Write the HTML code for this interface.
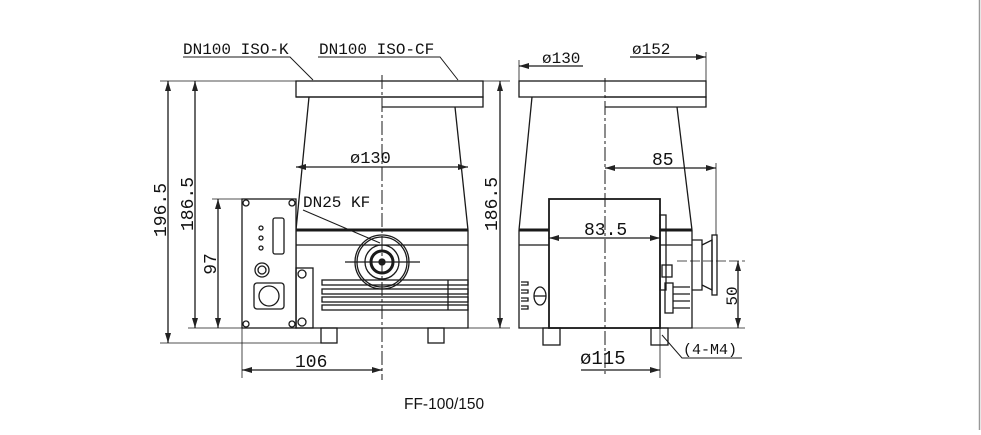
<!DOCTYPE html>
<html><head><meta charset="utf-8"><style>
body{margin:0;background:#fff;width:981px;height:430px;overflow:hidden}
text{font-family:"Liberation Mono","DejaVu Sans Mono",monospace;fill:#111}
</style></head><body>
<svg width="981" height="430" viewBox="0 0 981 430" xmlns="http://www.w3.org/2000/svg">
<defs><marker id="a" viewBox="0 0 10 6" refX="10" refY="3" markerWidth="10" markerHeight="6" orient="auto-start-reverse" markerUnits="userSpaceOnUse"><path d="M0,0L10,3L0,6z" fill="#222"/></marker></defs>
<line x1="979.5" y1="0" x2="979.5" y2="430" stroke="#999" stroke-width="1.5"/>
<g stroke="#1a1a1a" stroke-width="1.3" fill="none">
<rect x="296" y="81" width="187" height="16" fill="#fff"/>
<path d="M382 97H483V107H382"/>
<line x1="296" y1="97" x2="382" y2="97"/>
<path d="M309 97L296 230M455 107L468 230"/>
<line x1="296" y1="230" x2="468" y2="230" stroke-width="3"/>
<path d="M296 230V328H468V230M296 245H468"/>
<circle cx="382" cy="262" r="27"/><circle cx="382" cy="262" r="25"/><circle cx="382" cy="262" r="17"/><circle cx="382" cy="262" r="11" stroke-width="3"/><circle cx="382" cy="262" r="3" fill="#222"/>
<path d="M345 262H420"/>
<rect x="322" y="280" width="146" height="5"/><rect x="322" y="289" width="146" height="5"/><rect x="322" y="297" width="146" height="5"/><rect x="322" y="305" width="146" height="5"/>
<line x1="448" y1="280" x2="448" y2="310"/>
<rect x="321" y="328" width="16" height="15"/><rect x="428" y="328" width="16" height="15"/>
<rect x="242" y="199" width="54" height="129" fill="#fff"/>
<rect x="296" y="268" width="17" height="60"/>
<rect x="273" y="218" width="11" height="36" rx="2"/>
<circle cx="261" cy="228" r="2"/><circle cx="261" cy="238" r="2"/><circle cx="261" cy="248" r="2"/>
<circle cx="262" cy="270" r="7"/><circle cx="262" cy="270" r="4"/>
<rect x="254" y="283" width="30" height="26" rx="3"/><circle cx="269" cy="296" r="10"/>
<circle cx="246" cy="203" r="3"/><circle cx="292" cy="203" r="3"/><circle cx="246" cy="324" r="3"/><circle cx="292" cy="324" r="3"/>
<circle cx="302" cy="274" r="4"/><circle cx="302" cy="322" r="4"/>
<path d="M382 75V380" stroke-dasharray="14 3 3 3" stroke-width="1"/>
<path d="M160 81H296M160 343H321M188 81H296M188 328H242M212 199H242M212 328H242" stroke-width="0.8"/>
<line x1="168" y1="81" x2="168" y2="343" marker-start="url(#a)" marker-end="url(#a)"/>
<line x1="195" y1="81" x2="195" y2="328" marker-start="url(#a)" marker-end="url(#a)"/>
<line x1="218" y1="199" x2="218" y2="328" marker-start="url(#a)" marker-end="url(#a)"/>
<path d="M242 328V378" stroke-width="0.8"/>
<line x1="242" y1="370" x2="382" y2="370" marker-start="url(#a)" marker-end="url(#a)"/>
<line x1="296" y1="167" x2="468" y2="167" marker-start="url(#a)" marker-end="url(#a)"/>
<path d="M483 81H510M468 328H510" stroke-width="0.8"/>
<line x1="500" y1="81" x2="500" y2="328" marker-start="url(#a)" marker-end="url(#a)"/>
<path d="M183 57H290L313 80M318 57H440L458 80M303 210L380 243" stroke-width="1"/>
<rect x="519" y="81" width="187" height="16"/>
<path d="M605 97H706V107H605"/>
<path d="M532 97L519 230M677 107L692 230"/>
<line x1="519" y1="230" x2="692" y2="230" stroke-width="3"/>
<path d="M519 230V328H692V230M519 245H692"/>
<path d="M521 282h7v3h-7M521 290h7v3h-7M521 298h7v3h-7M521 306h7v3h-7"/>
<ellipse cx="540" cy="296" rx="6" ry="9"/><path d="M534 296H546"/>
<rect x="549" y="199" width="111" height="129" fill="#fff" stroke-width="1.8"/>
<rect x="660" y="215" width="6" height="75"/><rect x="662" y="265" width="10" height="12"/>
<rect x="665" y="283" width="8" height="30"/><path d="M673 287H690M673 294H690M673 301H690M673 308H690"/>
<path d="M692 240H702V290H692M702 245L712 240V290L702 285"/>
<rect x="712" y="235" width="5" height="60"/>
<rect x="543" y="328" width="17" height="17"/><rect x="651" y="328" width="17" height="17"/>
<path d="M605 78V375" stroke-dasharray="14 3 3 3" stroke-width="1"/>
<path d="M677 261H745" stroke-dasharray="10 3" stroke-width="0.8"/>
<path d="M519 60V81M706 52V81M716 163V235M692 328H745M660 328V378" stroke-width="0.8"/>
<line x1="519" y1="66" x2="583" y2="66" marker-start="url(#a)"/>
<line x1="630" y1="57" x2="706" y2="57" marker-end="url(#a)"/>
<line x1="605" y1="168" x2="716" y2="168" marker-start="url(#a)" marker-end="url(#a)"/>
<line x1="549" y1="238" x2="660" y2="238" marker-start="url(#a)" marker-end="url(#a)"/>
<line x1="738" y1="261" x2="738" y2="328" marker-start="url(#a)" marker-end="url(#a)"/>
<line x1="581" y1="370" x2="660" y2="370" marker-end="url(#a)"/>
<path d="M662 335L682 358H742" stroke-width="1"/>
</g>
<g font-size="16">
<text x="183" y="54">DN100 ISO-K</text>
<text x="319" y="54">DN100 ISO-CF</text>
<text x="350" y="163" font-size="17">ø130</text>
<text x="303" y="207">DN25 KF</text>
<text x="295" y="367" font-size="18">106</text>
<text transform="translate(166 210) rotate(-90)" text-anchor="middle" font-size="18">196.5</text>
<text transform="translate(193 204) rotate(-90)" text-anchor="middle" font-size="18">186.5</text>
<text transform="translate(216 264) rotate(-90)" text-anchor="middle" font-size="18">97</text>
<text transform="translate(497 204) rotate(-90)" text-anchor="middle" font-size="18">186.5</text>
<text x="542" y="63">ø130</text>
<text x="632" y="54">ø152</text>
<text x="652" y="165" font-size="18">85</text>
<text x="584" y="235" font-size="18">83.5</text>
<text transform="translate(737 296) rotate(-90)" text-anchor="middle" font-size="16">50</text>
<text x="580" y="364" font-size="19">ø115</text>
<text x="683" y="354" font-size="15">(4-M4)</text>
</g>
<text x="404" y="409" style="font-family:'Liberation Sans',sans-serif;font-size:15.5px">FF-100/150</text>
</svg>
</body></html>
